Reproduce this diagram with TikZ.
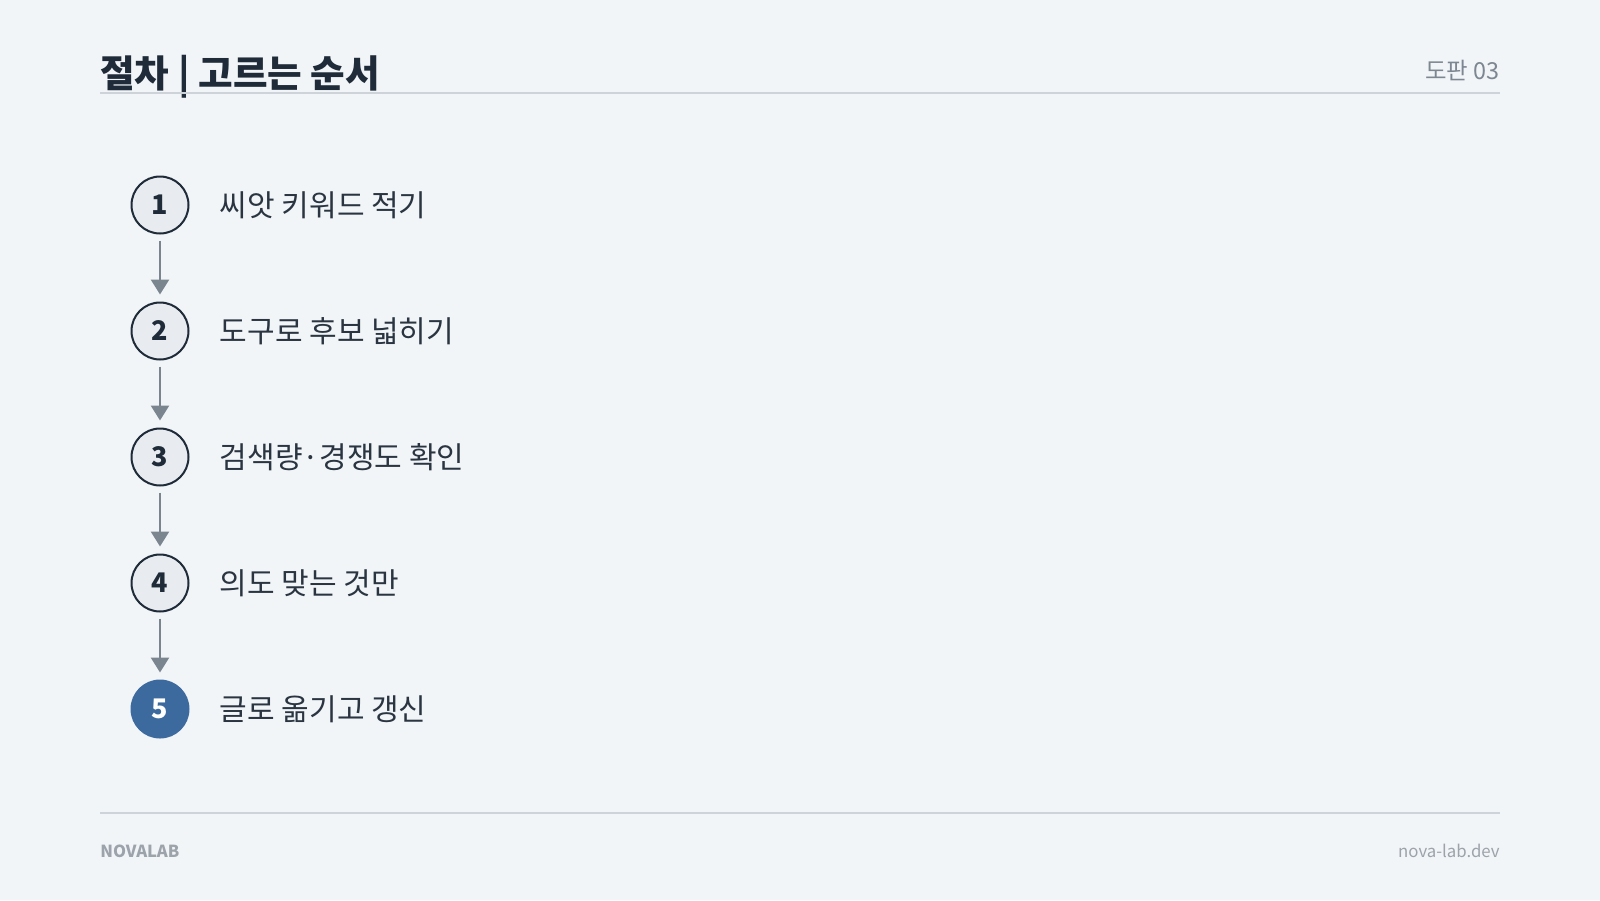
\documentclass[tikz,border=0pt]{standalone}
\usepackage{fontspec}
\setmainfont{Noto Sans CJK KR}
\usetikzlibrary{positioning, arrows.meta}
\definecolor{pagebg}{HTML}{F1F5F8}
\definecolor{inkdark}{HTML}{1F2B38}
\definecolor{labelink}{HTML}{2A3541}
\definecolor{rulegray}{HTML}{CDD3D8}
\definecolor{headgray}{HTML}{7D8791}
\definecolor{footgray}{HTML}{9CA3AA}
\definecolor{numfill}{HTML}{E8ECF0}
\definecolor{arrowgray}{HTML}{7A8590}
\definecolor{stepblue}{HTML}{3D6A9E}

\begin{document}
\begin{tikzpicture}[x=0.5pt, y=-0.5pt,
    stepnum/.style={circle, draw=inkdark, line width=1pt, fill=numfill, minimum size=28.5pt, inner sep=0pt,
      text=inkdark, font=\fontsize{13.5}{13.5}\selectfont\bfseries},
    stepnow/.style={stepnum, draw=stepblue, fill=stepblue, text=white},
    steplabel/.style={anchor=west, inner sep=0pt, text=labelink, font=\fontsize{15}{15}\selectfont},
    flow/.style={-{Triangle[width=9pt, length=7.5pt]}, draw=arrowgray, line width=1.3pt, shorten >=3.5pt, shorten <=3pt},
    node distance=33.5pt]
    \useasboundingbox (0,0) rectangle (1600,900);
    \fill[pagebg] (0,0) rectangle (1600,900);

    % header
    \node[anchor=base west, inner sep=0pt, text=inkdark, font=\fontsize{18.8}{18.8}\selectfont\bfseries] (title) at (100,87) {절차 | 고르는 순서};
    \node[anchor=base east, inner sep=0pt, text=headgray, font=\fontsize{11.7}{11.7}\selectfont] (plate) at (1500,79) {도판 03};
    \coordinate (hl) at (100,93);
    \coordinate (hr) at (1500,93);
    \draw[rulegray, line width=1pt] (hl) -- (hr);

    % steps
    \node[stepnum] (s1) at (160,205) {1};
    \node[stepnum] (s2) [below = of s1] {2};
    \node[stepnum] (s3) [below = of s2] {3};
    \node[stepnum] (s4) [below = of s3] {4};
    \node[stepnow] (s5) [below = of s4] {5};

    \node[steplabel] (l1) [right = 15pt of s1] {씨앗 키워드 적기};
    \node[steplabel] (l2) [right = 15pt of s2] {도구로 후보 넓히기};
    \node[steplabel] (l3) [right = 15pt of s3] {검색량·경쟁도 확인};
    \node[steplabel] (l4) [right = 15pt of s4] {의도 맞는 것만};
    \node[steplabel] (l5) [right = 15pt of s5] {글로 옮기고 갱신};

    \draw[flow] (s1) -- (s2);
    \draw[flow] (s2) -- (s3);
    \draw[flow] (s3) -- (s4);
    \draw[flow] (s4) -- (s5);

    % footer
    \coordinate (fl) at (100,813);
    \coordinate (fr) at (1500,813);
    \draw[rulegray, line width=1pt] (fl) -- (fr);
    \node[anchor=base west, inner sep=0pt, text=footgray, font=\fontsize{8.3}{8.3}\selectfont\bfseries] (brand) at (100,857) {NOVALAB};
    \node[anchor=base east, inner sep=0pt, text=footgray, font=\fontsize{8.4}{8.4}\selectfont] (site) at (1500,857) {nova-lab.dev};
\end{tikzpicture}
\end{document}
